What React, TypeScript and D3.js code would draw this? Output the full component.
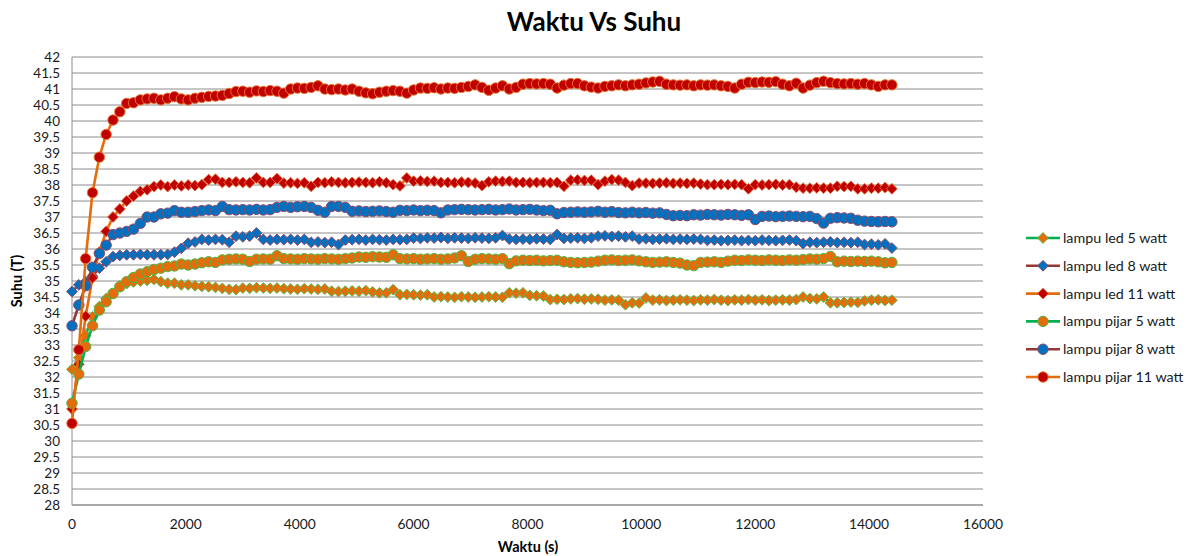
import React from "react";
import * as d3 from "d3";

// Time (s) of each reading
const timeS = [
  0, 120, 240, 360, 480, 600, 720, 840, 960, 1080,
  1200, 1320, 1440, 1560, 1680, 1800, 1920, 2040, 2160, 2280,
  2400, 2520, 2640, 2760, 2880, 3000, 3120, 3240, 3360, 3480,
  3600, 3720, 3840, 3960, 4080, 4200, 4320, 4440, 4560, 4680,
  4800, 4920, 5040, 5160, 5280, 5400, 5520, 5640, 5760, 5880,
  6000, 6120, 6240, 6360, 6480, 6600, 6720, 6840, 6960, 7080,
  7200, 7320, 7440, 7560, 7680, 7800, 7920, 8040, 8160, 8280,
  8400, 8520, 8640, 8760, 8880, 9000, 9120, 9240, 9360, 9480,
  9600, 9720, 9840, 9960, 10080, 10200, 10320, 10440, 10560, 10680,
  10800, 10920, 11040, 11160, 11280, 11400, 11520, 11640, 11760, 11880,
  12000, 12120, 12240, 12360, 12480, 12600, 12720, 12840, 12960, 13080,
  13200, 13320, 13440, 13560, 13680, 13800, 13920, 14040, 14160, 14280,
  14400,
];

const led5 = [
  32.24, 32.6, 33.3, 33.88, 34.2, 34.45, 34.6, 34.85, 34.92, 34.97,
  35.0, 35.02, 35.05, 34.98, 34.93, 34.93, 34.88, 34.88, 34.85, 34.83,
  34.82, 34.8, 34.77, 34.74, 34.73, 34.78, 34.77, 34.79, 34.78, 34.77,
  34.78, 34.76, 34.75, 34.74, 34.76, 34.75, 34.74, 34.75, 34.68, 34.67,
  34.68, 34.69, 34.68, 34.7, 34.66, 34.63, 34.63, 34.73, 34.57, 34.58,
  34.57, 34.56, 34.57, 34.5, 34.51, 34.5, 34.49, 34.51, 34.5, 34.49,
  34.5, 34.51, 34.5, 34.49, 34.63, 34.62, 34.63, 34.55, 34.54, 34.53,
  34.42, 34.43, 34.42, 34.44, 34.45, 34.43, 34.44, 34.43, 34.4, 34.41,
  34.4, 34.26, 34.32, 34.31, 34.47, 34.4, 34.41, 34.39, 34.4, 34.41,
  34.4, 34.39, 34.41, 34.4, 34.42, 34.4, 34.39, 34.41, 34.4, 34.42,
  34.4, 34.41, 34.39, 34.4, 34.41, 34.4, 34.42, 34.5, 34.45, 34.44,
  34.5, 34.32, 34.32, 34.33, 34.34, 34.33, 34.38, 34.4, 34.41, 34.39,
  34.4,
];

const led8 = [
  34.67, 34.88, 34.98, 35.15, 35.4, 35.6, 35.76, 35.8, 35.82, 35.82,
  35.83, 35.82, 35.82, 35.82, 35.83, 35.9, 36.02, 36.18, 36.22, 36.3,
  36.28, 36.3, 36.29, 36.21, 36.4, 36.38, 36.4, 36.5, 36.3, 36.28,
  36.3, 36.29, 36.3, 36.28, 36.3, 36.21, 36.22, 36.2, 36.21, 36.14,
  36.28, 36.29, 36.3, 36.28, 36.3, 36.29, 36.28, 36.3, 36.29, 36.3,
  36.34, 36.33, 36.35, 36.34, 36.36, 36.33, 36.35, 36.34, 36.33, 36.35,
  36.34, 36.33, 36.35, 36.42, 36.31, 36.3, 36.31, 36.3, 36.32, 36.31,
  36.3, 36.45, 36.33, 36.34, 36.35, 36.33, 36.35, 36.4, 36.41, 36.39,
  36.4, 36.38, 36.4, 36.31, 36.32, 36.3, 36.31, 36.32, 36.3, 36.31,
  36.3, 36.31, 36.3, 36.27, 36.28, 36.26, 36.27, 36.28, 36.26, 36.27,
  36.26, 36.28, 36.27, 36.26, 36.27, 36.28, 36.26, 36.17, 36.21, 36.2,
  36.21, 36.22, 36.2, 36.21, 36.2, 36.21, 36.14, 36.15, 36.13, 36.16,
  36.03,
];

const led11 = [
  31.0, 32.4, 33.9, 35.1, 35.9, 36.55, 37.0, 37.25, 37.5, 37.65,
  37.8, 37.85, 37.95, 38.0, 37.95, 38.0, 37.97, 38.0, 37.98, 38.01,
  38.17, 38.18, 38.08, 38.08, 38.1, 38.08, 38.07, 38.22, 38.08, 38.08,
  38.2, 38.06, 38.07, 38.05, 38.07, 37.96, 38.08, 38.07, 38.1, 38.08,
  38.07, 38.08, 38.09, 38.08, 38.07, 38.1, 38.07, 38.01, 37.97, 38.22,
  38.12, 38.13, 38.11, 38.12, 38.08, 38.08, 38.07, 38.09, 38.08, 38.06,
  37.98, 38.1, 38.12, 38.11, 38.12, 38.08, 38.08, 38.07, 38.08, 38.08,
  38.07, 38.08, 37.96, 38.15, 38.16, 38.14, 38.15, 38.01, 38.12, 38.17,
  38.15, 38.08, 37.98, 38.06, 38.06, 38.05, 38.06, 38.07, 38.05, 38.06,
  38.05, 38.06, 38.03, 38.01, 38.01, 38.02, 38.01, 38.02, 38.01, 37.88,
  38.01, 38.0, 38.01, 38.02, 38.0, 38.01, 37.93, 37.9, 37.9, 37.91,
  37.9, 37.9, 37.96, 37.95, 37.96, 37.88, 37.88, 37.9, 37.9, 37.92,
  37.88,
];

const pijar5 = [
  31.18, 32.09, 32.95, 33.6, 34.09, 34.35, 34.61, 34.82, 34.98, 35.11,
  35.22, 35.29, 35.36, 35.4, 35.45, 35.47, 35.53, 35.5, 35.53, 35.57,
  35.6, 35.58, 35.66, 35.68, 35.69, 35.68, 35.61, 35.68, 35.69, 35.68,
  35.79, 35.7, 35.69, 35.68, 35.7, 35.69, 35.68, 35.7, 35.69, 35.68,
  35.7, 35.72, 35.75, 35.74, 35.76, 35.75, 35.74, 35.82, 35.7, 35.69,
  35.7, 35.68, 35.69, 35.7, 35.68, 35.69, 35.72, 35.79, 35.61, 35.68,
  35.7, 35.69, 35.68, 35.7, 35.54, 35.63, 35.65, 35.64, 35.65, 35.63,
  35.64, 35.65, 35.6, 35.58, 35.57, 35.58, 35.59, 35.62, 35.65, 35.66,
  35.64, 35.65, 35.66, 35.63, 35.6, 35.58, 35.59, 35.6, 35.58, 35.56,
  35.5, 35.48, 35.58, 35.59, 35.6, 35.58, 35.62, 35.65, 35.64, 35.66,
  35.65, 35.64, 35.66, 35.65, 35.64, 35.66, 35.65, 35.67, 35.69, 35.68,
  35.7, 35.77, 35.6, 35.62, 35.61, 35.62, 35.61, 35.62, 35.6, 35.57,
  35.58,
];

const pijar8 = [
  33.6, 34.25, 34.85, 35.43, 35.86, 36.12, 36.45, 36.5, 36.55, 36.62,
  36.8, 37.0, 37.0, 37.1, 37.12, 37.2, 37.15, 37.15, 37.17, 37.2,
  37.22, 37.2, 37.33, 37.23, 37.22, 37.23, 37.22, 37.24, 37.22, 37.23,
  37.3, 37.33, 37.3, 37.32, 37.33, 37.3, 37.21, 37.15, 37.33, 37.33,
  37.3, 37.18, 37.19, 37.17, 37.18, 37.19, 37.17, 37.15, 37.21, 37.2,
  37.22, 37.2, 37.21, 37.2, 37.13, 37.22, 37.23, 37.24, 37.23, 37.22,
  37.23, 37.24, 37.22, 37.23, 37.25, 37.22, 37.23, 37.24, 37.22, 37.2,
  37.21, 37.1, 37.14, 37.15, 37.16, 37.15, 37.16, 37.18, 37.15, 37.17,
  37.14, 37.13, 37.15, 37.13, 37.14, 37.12, 37.13, 37.08, 37.04, 37.05,
  37.04, 37.07, 37.06, 37.08, 37.07, 37.06, 37.08, 37.07, 37.05, 37.07,
  36.92, 37.02, 37.03, 37.01, 37.02, 37.03, 37.02, 37.01, 37.02, 36.95,
  36.81, 36.96, 36.98, 36.97, 36.96, 36.9, 36.87, 36.86, 36.85, 36.86,
  36.85,
];

const pijar11 = [
  30.55, 32.85, 35.7, 37.76, 38.87, 39.58, 40.03, 40.29, 40.55, 40.57,
  40.66, 40.69, 40.71, 40.66, 40.71, 40.76, 40.69, 40.66, 40.71, 40.74,
  40.77, 40.78, 40.8, 40.86, 40.92, 40.93, 40.9, 40.94, 40.92, 40.95,
  40.93, 40.87, 41.0, 41.03, 41.02, 41.05, 41.1, 41.0, 40.98, 41.0,
  40.97, 41.0, 40.93, 40.88, 40.85, 40.9, 40.93, 40.95, 40.93, 40.87,
  40.97, 41.03, 41.02, 41.04, 41.0, 41.03, 41.02, 41.05, 41.08, 41.13,
  41.05, 40.96, 41.03, 41.1, 41.0, 41.05, 41.15, 41.17, 41.16, 41.17,
  41.15, 41.03, 41.12, 41.17, 41.17, 41.1, 41.06, 41.03, 41.08, 41.1,
  41.13, 41.1, 41.13, 41.15, 41.19, 41.22, 41.24, 41.15, 41.13, 41.12,
  41.13, 41.1, 41.13, 41.12, 41.13, 41.1, 41.08, 41.03, 41.15, 41.21,
  41.2, 41.22, 41.21, 41.23, 41.15, 41.1, 41.18, 41.03, 41.12, 41.2,
  41.24, 41.2, 41.17, 41.16, 41.17, 41.15, 41.17, 41.13, 41.08, 41.13,
  41.13,
];

const seriesNames = [
  "lampu led 5 watt",
  "lampu led 8 watt",
  "lampu led 11 watt",
  "lampu pijar 5 watt",
  "lampu pijar 8 watt",
  "lampu pijar 11 watt",
];
const seriesValues = [led5, led8, led11, pijar5, pijar8, pijar11];

const xTicks = [0, 2000, 4000, 6000, 8000, 10000, 12000, 14000, 16000];
const yTickCount = 29; // 28 .. 42 step 0.5

const GREEN = "#00B050";
const DARKRED = "#953735";
const ORANGE = "#E46C0A";
const BLUE = "#0070C0";
const RED = "#C00000";

const styles = [
  { line: GREEN, fill: ORANGE, stroke: "#5DBB4A", shape: "diamond" },
  { line: DARKRED, fill: BLUE, stroke: "#8E4A6A", shape: "diamond" },
  { line: ORANGE, fill: RED, stroke: "#E2693A", shape: "diamond" },
  { line: GREEN, fill: ORANGE, stroke: "#4DB848", shape: "circle" },
  { line: DARKRED, fill: BLUE, stroke: "#8E4A6A", shape: "circle" },
  { line: ORANGE, fill: RED, stroke: "#E8702A", shape: "circle" },
];

const W = 1192;
const H = 556;
const M = { left: 72, right: 983, top: 57, bottom: 505 };
const FONT = "Lato, 'Open Sans', 'Liberation Sans', sans-serif";

function Marker({ x, y, st }: { x: number; y: number; st: any }) {
  if (st.shape === "circle") {
    return <circle cx={x} cy={y} r={5.2} fill={st.fill} stroke={st.stroke} strokeWidth={1} />;
  }
  const r = 5.4;
  return (
    <path
      d={`M${x},${y - r}L${x + r},${y}L${x},${y + r}L${x - r},${y}Z`}
      fill={st.fill}
      stroke={st.stroke}
      strokeWidth={1}
    />
  );
}

export default function App() {
  const x = d3.scaleLinear().domain([0, 16000]).range([M.left, M.right]);
  const y = d3.scaleLinear().domain([28, 42]).range([M.bottom, M.top]);
  const yTicks = d3.range(yTickCount).map((i) => 28 + i * 0.5);
  const line = d3
    .line<number>()
    .x((_, i) => x(timeS[i]))
    .y((d) => y(d));

  const legendX = 1026;
  const legendY0 = 238;
  const legendDy = 27.8;

  return (
    <svg
      width={W}
      height={H}
      style={{ position: "absolute", left: 0, top: 0, background: "#fff" }}
      fontFamily={FONT}
    >
      <rect width={W} height={H} fill="#fff" />
      <text x={594} y={31} textAnchor="middle" fontSize={26} fontWeight="bold" fill="#000">
        Waktu Vs Suhu
      </text>

      {/* gridlines */}
      {yTicks.map((t) => (
        <line key={t} x1={M.left} x2={M.right} y1={y(t)} y2={y(t)} stroke="#8C8C8C" strokeWidth={1} />
      ))}
      {/* axes */}
      <line x1={M.left} x2={M.left} y1={M.top} y2={M.bottom} stroke="#8C8C8C" strokeWidth={1} />
      <line x1={M.left} x2={M.right} y1={M.bottom} y2={M.bottom} stroke="#8C8C8C" strokeWidth={1} />

      {yTicks.map((t) => (
        <text key={t} x={60} y={y(t) + 5} textAnchor="end" fontSize={13.5} fill="#1a1a1a">
          {String(t)}
        </text>
      ))}
      {xTicks.map((t) => (
        <text key={t} x={x(t)} y={529} textAnchor="middle" fontSize={13.8} fill="#1a1a1a">
          {String(t)}
        </text>
      ))}

      <text
        transform={`translate(22,281) rotate(-90)`}
        textAnchor="middle"
        fontSize={14.5}
        fontWeight="bold"
        fill="#000"
      >
        Suhu (T)
      </text>
      <text x={528} y={552} textAnchor="middle" fontSize={14.5} fontWeight="bold" fill="#000">
        Waktu (s)
      </text>

      {seriesValues.map((vals, si) => {
        const st = styles[si];
        return (
          <g key={si}>
            <path d={line(vals) || ""} fill="none" stroke={st.line} strokeWidth={2.6} strokeLinejoin="round" />
            {vals.map((v, i) => (
              <Marker key={i} x={x(timeS[i])} y={y(v)} st={st} />
            ))}
          </g>
        );
      })}

      {seriesNames.map((n, si) => {
        const st = styles[si];
        const ly = legendY0 + si * legendDy;
        return (
          <g key={n}>
            <line x1={legendX} x2={legendX + 34} y1={ly} y2={ly} stroke={st.line} strokeWidth={2.6} />
            <Marker x={legendX + 17} y={ly} st={st} />
            <text x={legendX + 37} y={ly + 5} fontSize={14.3} fill="#1a1a1a">
              {n}
            </text>
          </g>
        );
      })}
    </svg>
  );
}
